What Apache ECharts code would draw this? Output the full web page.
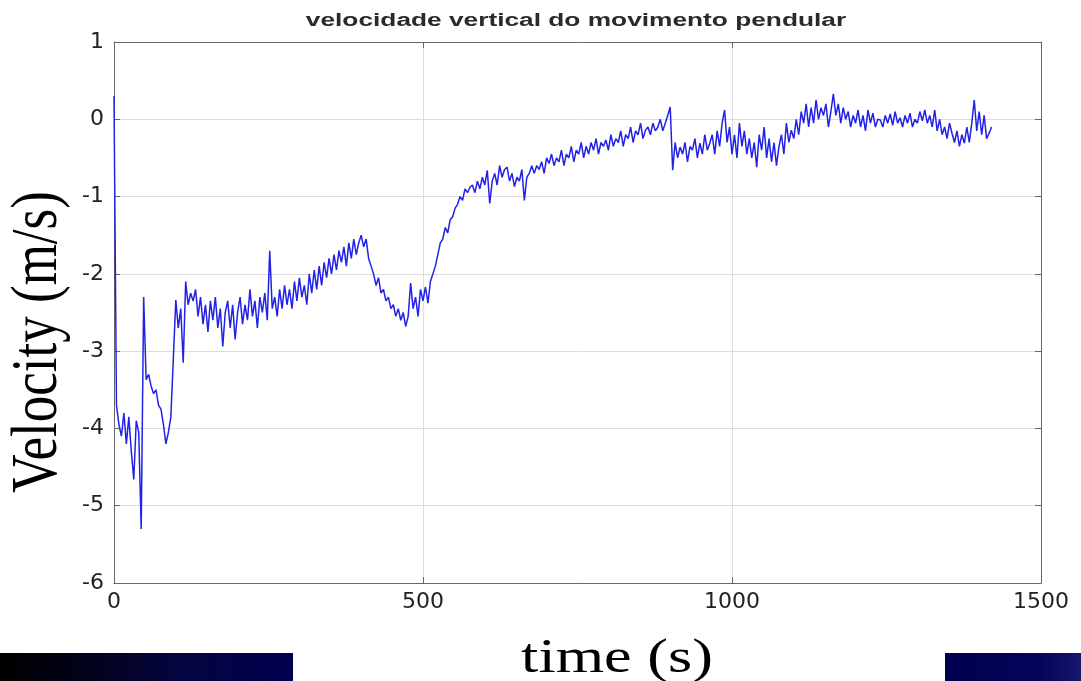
<!DOCTYPE html>
<html>
<head>
<meta charset="utf-8">
<script src="https://cdn.jsdelivr.net/npm/echarts@6/dist/echarts.min.js"></script>
<style>
html,body{margin:0;padding:0;background:#ffffff;}
#chart{width:1081px;height:681px;}
</style>
</head>
<body>
<div id="chart"></div>
<script>
// ---- data ----
const chartTitle = 'velocidade vertical do movimento pendular';
const xAxisTitle = 'time (s)';
const yAxisTitle = 'Velocity (m/s)';
const xTicks = [0, 500, 1000, 1500];
const yTicks = [-6, -5, -4, -3, -2, -1, 0, 1];
const startTime = 0;      // s
const sampleStep = 4;     // s between samples
const velocity = [
  0.3, -3.7, -3.95, -4.1, -3.8, -4.2, -3.85, -4.3, -4.66, -3.9,
  -4.05, -5.3, -2.3, -3.37, -3.3, -3.45, -3.55, -3.5, -3.7, -3.75,
  -3.95, -4.2, -4.05, -3.85, -3.1, -2.34, -2.7, -2.45, -3.15, -2.1,
  -2.4, -2.25, -2.35, -2.2, -2.55, -2.3, -2.65, -2.4, -2.75, -2.35,
  -2.6, -2.3, -2.7, -2.45, -2.94, -2.5, -2.35, -2.7, -2.4, -2.85,
  -2.5, -2.3, -2.65, -2.4, -2.6, -2.2, -2.55, -2.35, -2.7, -2.3,
  -2.5, -2.25, -2.6, -1.7, -2.45, -2.3, -2.55, -2.2, -2.45, -2.15,
  -2.4, -2.2, -2.45, -2.1, -2.35, -2.05, -2.3, -2.15, -2.4, -2.0,
  -2.25, -1.95, -2.2, -1.9, -2.15, -1.85, -2.05, -1.8, -2.0, -1.75,
  -1.95, -1.7, -1.85, -1.65, -1.9, -1.6, -1.8, -1.55, -1.75, -1.6,
  -1.5, -1.65, -1.55, -1.8, -1.9, -2.0, -2.15, -2.05, -2.25, -2.2,
  -2.35, -2.3, -2.45, -2.4, -2.55, -2.45, -2.6, -2.5, -2.68, -2.55,
  -2.12, -2.45, -2.3, -2.55, -2.2, -2.35, -2.17, -2.38, -2.1, -2.0,
  -1.9, -1.75, -1.6, -1.55, -1.4, -1.47, -1.3, -1.26, -1.15, -1.1,
  -1.0, -1.05, -0.9, -0.95, -0.88, -0.85, -0.95, -0.8, -0.9, -0.75,
  -0.85, -0.66, -1.09, -0.8, -0.7, -0.85, -0.6, -0.75, -0.65, -0.62,
  -0.8, -0.7, -0.87, -0.75, -0.8, -0.65, -1.05, -0.75, -0.7, -0.6,
  -0.7, -0.6, -0.65, -0.55, -0.7, -0.5, -0.57, -0.45, -0.6, -0.5,
  -0.55, -0.4, -0.6, -0.45, -0.5, -0.35, -0.55, -0.4, -0.45, -0.3,
  -0.5, -0.35, -0.45, -0.3, -0.4, -0.25, -0.45, -0.3, -0.35, -0.27,
  -0.4, -0.2, -0.35, -0.25, -0.3, -0.15, -0.35, -0.2, -0.25, -0.1,
  -0.3, -0.15, -0.2, -0.05, -0.25, -0.14, -0.1, -0.2, -0.05, -0.15,
  -0.1, 0.0, -0.15, -0.05, 0.05, 0.16, -0.66, -0.3, -0.5, -0.36,
  -0.45, -0.3, -0.55, -0.35, -0.4, -0.25, -0.5, -0.31, -0.45, -0.2,
  -0.4, -0.31, -0.2, -0.45, -0.15, -0.35, -0.05, 0.12, -0.3, -0.1,
  -0.45, -0.2, -0.5, -0.05, -0.35, -0.15, -0.45, -0.25, -0.5, -0.3,
  -0.62, -0.2, -0.4, -0.1, -0.5, -0.25, -0.55, -0.3, -0.6, -0.35,
  -0.2, -0.45, -0.05, -0.3, -0.14, -0.25, 0.0, -0.2, 0.1, -0.05,
  0.2, -0.1, 0.15, -0.05, 0.25, 0.0, 0.15, 0.05, 0.2, -0.1,
  0.1, 0.33, 0.05, 0.2, -0.05, 0.15, 0.0, 0.1, -0.1, 0.05,
  -0.05, 0.12, -0.1, 0.05, -0.15, 0.12, -0.05, 0.08, -0.1, 0.0,
  -0.01, -0.1, 0.05, -0.05, 0.07, -0.08, 0.1, -0.05, 0.02, -0.1,
  0.05, -0.05, 0.08, -0.1, 0.0, -0.05, 0.1, -0.02, 0.12, -0.05,
  0.05, -0.1, 0.12, -0.15, 0.0, -0.2, -0.1, -0.25, -0.05, -0.18,
  -0.3, -0.15, -0.35, -0.2, -0.31, -0.1, -0.3, -0.05, 0.25, -0.15,
  0.1, -0.2, 0.05, -0.25, -0.18, -0.1
];

// ---- build chart ----
const seriesData = velocity.map((v, i) => [startTime + i * sampleStep, v]);
const xMin = xTicks[0], xMax = xTicks[xTicks.length - 1], xInt = xTicks[1] - xTicks[0];
const yMin = yTicks[0], yMax = yTicks[yTicks.length - 1], yInt = yTicks[1] - yTicks[0];

const tickFont = { fontFamily: 'DejaVu Sans', fontSize: 22, color: '#222' };
const chart = echarts.init(document.getElementById('chart'), null, { renderer: 'canvas' });

const axisLineStyle = { show: true, onZero: false, lineStyle: { color: '#666', width: 1 } };
const axisTickStyle = { show: true, inside: true, length: 6, lineStyle: { color: '#666' } };
const baseX = { type: 'value', min: xMin, max: xMax, interval: xInt, axisLine: axisLineStyle, axisTick: axisTickStyle };
const baseY = { type: 'value', min: yMin, max: yMax, interval: yInt, axisLine: axisLineStyle, axisTick: axisTickStyle };

chart.setOption({
  animation: false,
  backgroundColor: '#ffffff',
  grid: { left: 114, right: 40, top: 42, bottom: 98, containLabel: false },
  xAxis: [
    Object.assign({}, baseX, {
      position: 'bottom',
      axisLabel: Object.assign({ margin: 8, formatter: v => String(v) }, tickFont),
      splitLine: { show: true, lineStyle: { color: '#dcdcdc', width: 1 } }
    }),
    Object.assign({}, baseX, {
      position: 'top',
      axisLabel: { show: false },
      splitLine: { show: false }
    })
  ],
  yAxis: [
    Object.assign({}, baseY, {
      position: 'left',
      axisLabel: Object.assign({ margin: 10, formatter: v => String(v) }, tickFont),
      splitLine: { show: true, lineStyle: { color: '#dcdcdc', width: 1 } }
    }),
    Object.assign({}, baseY, {
      position: 'right',
      axisLabel: { show: false },
      splitLine: { show: false }
    })
  ],
  series: [{
    type: 'line',
    data: seriesData,
    showSymbol: false,
    symbol: 'none',
    lineStyle: { color: '#2222e6', width: 1.5 },
    z: 5
  }],
  graphic: [
    {
      type: 'text', x: 576, y: 21,
      scaleX: 1.46,
      style: {
        text: chartTitle, fill: '#2a2a2a',
        font: 'bold 18px "Liberation Sans", Arial, sans-serif',
        textAlign: 'center', textVerticalAlign: 'middle'
      }
    },
    {
      type: 'text', x: 39, y: 342,
      rotation: Math.PI / 2, scaleY: 1.25,
      style: {
        text: yAxisTitle, fill: '#000',
        font: '53px "Liberation Serif", "Times New Roman", serif',
        textAlign: 'center', textVerticalAlign: 'middle'
      }
    },
    {
      type: 'text', x: 617, y: 659,
      scaleX: 1.27,
      style: {
        text: xAxisTitle, fill: '#000',
        font: '49px "Liberation Serif", "Times New Roman", serif',
        textAlign: 'center', textVerticalAlign: 'middle'
      }
    },
    {
      type: 'rect', shape: { x: 0, y: 653, width: 293, height: 28 },
      style: {
        fill: new echarts.graphic.LinearGradient(0, 0, 1, 0, [
          { offset: 0, color: '#000000' },
          { offset: 0.3, color: '#02021a' },
          { offset: 0.6, color: '#05053f' },
          { offset: 1, color: '#000050' }
        ])
      }
    },
    {
      type: 'rect', shape: { x: 945, y: 653, width: 136, height: 28 },
      style: {
        fill: new echarts.graphic.LinearGradient(0, 0, 1, 0, [
          { offset: 0, color: '#000050' },
          { offset: 0.7, color: '#05055a' },
          { offset: 1, color: '#16166a' }
        ])
      }
    }
  ]
});
</script>
</body>
</html>
